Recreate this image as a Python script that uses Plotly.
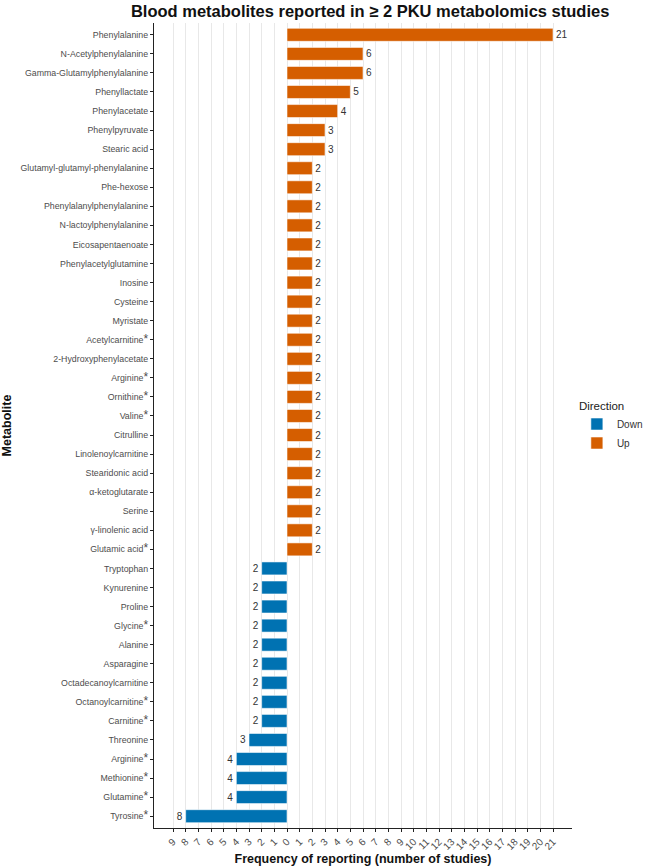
import plotly.graph_objects as go

AST = "<span style='font-size:12px'>*</span>"

up_names = ["Phenylalanine", "N-Acetylphenylalanine", "Gamma-Glutamylphenylalanine", "Phenyllactate",
            "Phenylacetate", "Phenylpyruvate", "Stearic acid", "Glutamyl-glutamyl-phenylalanine",
            "Phe-hexose", "Phenylalanylphenylalanine", "N-lactoylphenylalanine", "Eicosapentaenoate",
            "Phenylacetylglutamine", "Inosine", "Cysteine", "Myristate", "Acetylcarnitine" + AST,
            "2-Hydroxyphenylacetate", "Arginine" + AST, "Ornithine" + AST, "Valine" + AST,
            "Citrulline", "Linolenoylcarnitine", "Stearidonic acid", "α-ketoglutarate", "Serine",
            "γ-linolenic acid", "Glutamic acid" + AST]
up_values = [21, 6, 6, 5, 4, 3, 3, 2, 2, 2, 2, 2, 2, 2, 2, 2, 2, 2, 2, 2, 2, 2, 2, 2, 2, 2, 2, 2]

down_names = ["Tryptophan", "Kynurenine", "Proline", "Glycine" + AST, "Alanine", "Asparagine",
              "Octadecanoylcarnitine", "Octanoylcarnitine" + AST, "Carnitine" + AST, "Threonine",
              "Arginine" + AST, "Methionine" + AST, "Glutamine" + AST, "Tyrosine" + AST]
down_values = [2, 2, 2, 2, 2, 2, 2, 2, 2, 3, 4, 4, 4, 8]

x_ticks = list(range(-9, 22))

all_names = up_names + down_names
n = len(all_names)
pos = [n - 1 - i for i in range(n)]
up_pos = pos[:len(up_names)]
down_pos = pos[len(up_names):]

UP = "#D55E00"
DOWN = "#0072B2"
FONT = "Liberation Sans, Arial, sans-serif"

fig = go.Figure()
fig.add_trace(go.Bar(
    y=down_pos, x=[-v for v in down_values], orientation="h", name="Down",
    marker=dict(color=DOWN, line=dict(color="rgba(255,255,255,0.55)", width=1)),
    width=0.68, text=[str(v) for v in down_values], textposition="outside",
    textfont=dict(size=10, color="#333333", family=FONT), cliponaxis=False,
))
fig.add_trace(go.Bar(
    y=up_pos, x=up_values, orientation="h", name="Up",
    marker=dict(color=UP, line=dict(color="rgba(255,255,255,0.55)", width=1)),
    width=0.68, text=[str(v) for v in up_values], textposition="outside",
    textfont=dict(size=10, color="#333333", family=FONT), cliponaxis=False,
))

fig.update_layout(
    width=646, height=866,
    margin=dict(l=154, r=74, t=23, b=38, autoexpand=False),
    paper_bgcolor="white", plot_bgcolor="white",
    font=dict(family=FONT, color="#222222"),
    title=dict(text="<b>Blood metabolites reported in ≥ 2 PKU metabolomics studies</b>",
               xref="container", x=0.573, xanchor="center", y=0.994, yanchor="top",
               font=dict(size=16.5, color="#111111", family=FONT)),
    showlegend=True,
    legend=dict(title=dict(text="Direction", font=dict(size=11.5, color="#222222")),
                xref="container", x=0.893, xanchor="left",
                yref="container", y=0.508, yanchor="middle",
                font=dict(size=10, color="#333333"), traceorder="normal",
                itemwidth=30, bgcolor="rgba(0,0,0,0)"),
)

fig.update_xaxes(
    range=[-10.5, 22.5], tickmode="array", tickvals=x_ticks,
    ticktext=[str(abs(t)) for t in x_ticks], tickangle=-45,
    tickfont=dict(size=10, color="#4D4D4D"),
    showgrid=True, gridcolor="#E8E8E8", gridwidth=1,
    showline=True, linecolor="#222222", linewidth=1.2,
    ticks="outside", ticklen=3, tickcolor="#222222", zeroline=False,
    title=dict(text="<b>Frequency of reporting (number of studies)</b>",
               font=dict(size=12.5, color="#111111"), standoff=4),
)
fig.update_yaxes(
    range=[-0.62, n - 1 + 0.62], tickmode="array", tickvals=pos, ticktext=all_names,
    tickfont=dict(size=8.8, color="#4D4D4D"),
    showgrid=False, showline=True, linecolor="#222222", linewidth=1.2,
    ticks="outside", ticklen=3, tickcolor="#222222", zeroline=False,
    title=dict(text="<b>Metabolite</b>", font=dict(size=12.5, color="#111111"), standoff=8),
)

fig.write_html("out.html")
